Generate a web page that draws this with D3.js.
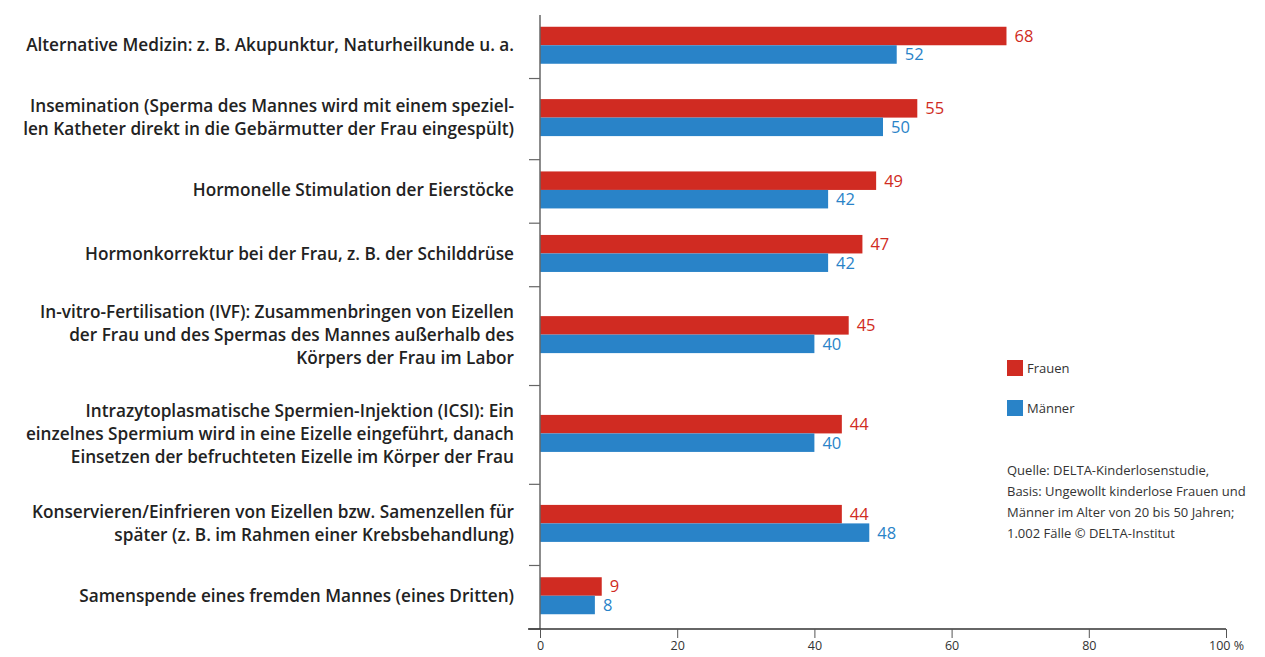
<!DOCTYPE html>
<html><head><meta charset="utf-8">
<script src="https://cdn.jsdelivr.net/npm/d3@7"></script>
<style>
body{margin:0;background:#fff;}
svg{display:block;}
</style></head>
<body>
<svg id="chart" width="1265" height="657"></svg>
<script>
const categories = [
  ["Alternative Medizin: z. B. Akupunktur, Naturheilkunde u. a."],
  ["Insemination (Sperma des Mannes wird mit einem speziel-", "len Katheter direkt in die Gebärmutter der Frau eingespült)"],
  ["Hormonelle Stimulation der Eierstöcke"],
  ["Hormonkorrektur bei der Frau, z. B. der Schilddrüse"],
  ["In-vitro-Fertilisation (IVF): Zusammenbringen von Eizellen", "der Frau und des Spermas des Mannes außerhalb des", "Körpers der Frau im Labor"],
  ["Intrazytoplasmatische Spermien-Injektion (ICSI): Ein", "einzelnes Spermium wird in eine Eizelle eingeführt, danach", "Einsetzen der befruchteten Eizelle im Körper der Frau"],
  ["Konservieren/Einfrieren von Eizellen bzw. Samenzellen für", "später (z. B. im Rahmen einer Krebsbehandlung)"],
  ["Samenspende eines fremden Mannes (eines Dritten)"]
];
const frauen = [68, 55, 49, 47, 45, 44, 44, 9];
const maenner = [52, 50, 42, 42, 40, 40, 48, 8];
const seriesNames = ["Frauen", "Männer"];
const xTicks = [0, 20, 40, 60, 80, 100];
const sourceLines = ["Quelle: DELTA-Kinderlosenstudie,", "Basis: Ungewollt kinderlose Frauen und", "Männer im Alter von 20 bis 50 Jahren;", "1.002 Fälle © DELTA-Institut"];

const colors = {Frauen: "#d02b22", "Männer": "#2983c8"};
const svg = d3.select("#chart");
const plotL = 540, plotR = 1226, plotT = 15, plotB = 629;
const font = "'Open Sans', sans-serif";

const x = d3.scaleLinear().domain([0, 100]).range([plotL, plotR]);

// band heights driven by the number of label lines
const weights = categories.map(c => 2.6 + c.length);
const cum = [0];
weights.forEach((w, i) => cum.push(cum[i] + w));
const yU = d3.scaleLinear().domain([0, cum[cum.length - 1]]).range([plotT, plotB]);
const bandStart = i => yU(cum[i]);
const bandEnd = i => yU(cum[i + 1]);
const center = i => (bandStart(i) + bandEnd(i)) / 2 - 1.5;
const barH = 18.5;

// bars
const g = svg.append("g");
categories.forEach((c, i) => {
  const cy = center(i);
  [[frauen[i], "Frauen", cy - barH], [maenner[i], "Männer", cy]].forEach(([v, s, y0]) => {
    g.append("rect").attr("x", x(0)).attr("y", y0).attr("width", x(v) - x(0)).attr("height", barH)
      .attr("fill", colors[s]);
    g.append("text").attr("x", x(v) + 8).attr("y", y0 + barH / 2).attr("dy", "0.36em")
      .attr("fill", colors[s]).attr("font-family", font).attr("font-size", 16.5).text(v);
  });
  const lh = 23;
  const n = c.length;
  c.forEach((line, k) => {
    svg.append("text").attr("x", 514).attr("y", cy + (k - (n - 1) / 2) * lh).attr("dy", "0.36em")
      .attr("text-anchor", "end").attr("font-family", font).attr("font-weight", 600)
      .attr("font-size", 17.2).attr("fill", "#222").text(line);
  });
});

// y axis line and ticks
svg.append("line").attr("x1", plotL).attr("x2", plotL).attr("y1", plotT).attr("y2", plotB)
  .attr("stroke", "#666").attr("stroke-width", 1.5);
for (let i = 1; i <= categories.length; i++) {
  svg.append("line").attr("x1", plotL - 11).attr("x2", plotL).attr("y1", bandStart(i)).attr("y2", bandStart(i))
    .attr("stroke", "#666").attr("stroke-width", 1.2);
}

// x axis
const xAxis = d3.axisBottom(x).tickValues(xTicks).tickSize(9).tickPadding(2).tickFormat(d => d === 100 ? "100 %" : d);
const ax = svg.append("g").attr("transform", `translate(0,${plotB})`).call(xAxis);
ax.select(".domain").attr("stroke", "#333").attr("stroke-width", 1.5).attr("d", `M${plotL - 12},0H${plotR}`);
ax.selectAll(".tick line").attr("stroke", "#555").attr("stroke-width", 1);
ax.selectAll(".tick text").attr("font-family", font).attr("font-size", 12.5).attr("fill", "#333").attr("dy", "0.8em");

// legend
seriesNames.forEach((s, i) => {
  const ly = 360 + i * 40;
  svg.append("rect").attr("x", 1007).attr("y", ly).attr("width", 16).attr("height", 16).attr("fill", colors[s]);
  svg.append("text").attr("x", 1027).attr("y", ly + 8).attr("dy", "0.36em").attr("font-family", font)
    .attr("font-size", 13).attr("fill", "#333").text(s);
});

// source
sourceLines.forEach((l, i) => {
  svg.append("text").attr("x", 1007).attr("y", 470 + i * 21).attr("dy", "0.36em").attr("font-family", font)
    .attr("font-size", 13).attr("fill", "#333").text(l);
});
</script>
</body></html>
